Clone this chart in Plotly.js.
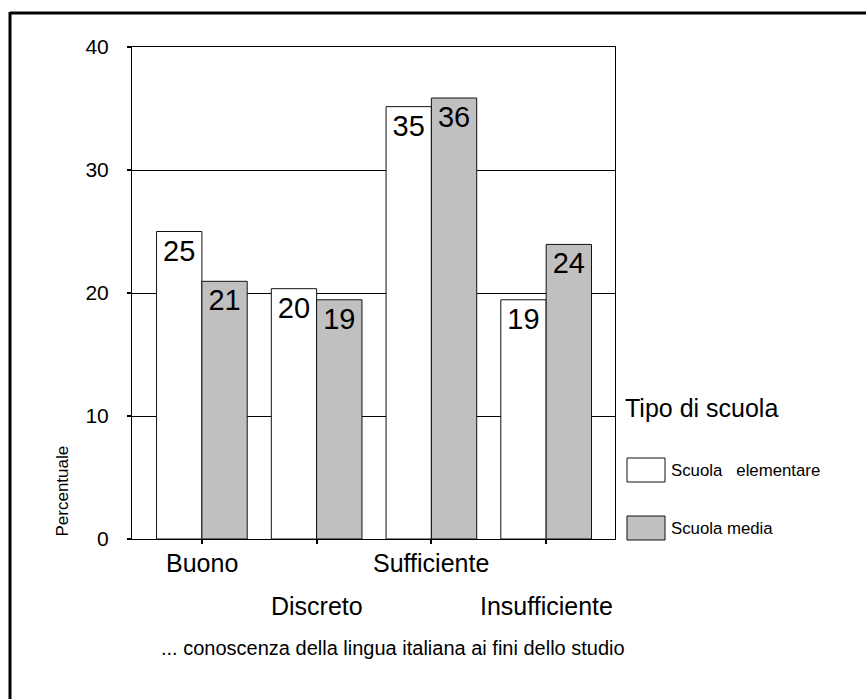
<!DOCTYPE html>
<html>
<head>
<meta charset="utf-8">
<script src="https://cdn.plot.ly/plotly-3.0.1.min.js"></script>
<style>
  html, body { margin: 0; padding: 0; background: #fff; }
  #chart { width: 866px; height: 699px; }
</style>
</head>
<body>
<div id="chart"></div>
<script>
// Giudizio sulla conoscenza della lingua italiana, per tipo di scuola (%)
const categories = ['Buono', 'Discreto', 'Sufficiente', 'Insufficiente'];
const seriesNames = ['Scuola\u00a0\u00a0 elementare', 'Scuola media'];
const elementare = [25.0, 20.35, 35.15, 19.45];
const media = [20.95, 19.45, 35.85, 23.95];
const yTicks = [0, 10, 20, 30, 40];

const W = 866, H = 699;
const M = { l: 132, r: 251, t: 47, b: 160 };
const plotW = W - M.l - M.r, plotH = H - M.t - M.b;
// pixel -> paper helpers for the legend and side labels
const px = x => (x - M.l) / plotW;
const py = y => (H - M.b - y) / plotH;

const FONT = '"Liberation Sans", Arial, sans-serif';
const fills = ['#ffffff', '#c0c0c0'];

const traces = [elementare, media].map((vals, i) => ({
  type: 'bar',
  name: seriesNames[i],
  x: categories,
  y: vals,
  marker: { color: fills[i], line: { color: '#111', width: 1 } },
  texttemplate: '%{y:.0f}',
  textposition: 'inside',
  insidetextanchor: 'end',
  constraintext: 'none',
  textangle: 0,
  insidetextfont: { family: FONT, size: 29, color: '#000' },
  hoverinfo: 'skip',
  showlegend: false
}));

const annotations = [];
// category labels, alternating on two rows
categories.forEach((c, i) => {
  annotations.push({
    x: c, xref: 'x', y: 0, yref: 'paper',
    yshift: i % 2 === 0 ? -24 : -67,
    xanchor: 'center', yanchor: 'middle',
    text: c, showarrow: false,
    font: { family: FONT, size: 25, color: '#000' }
  });
});
// y axis title
annotations.push({
  x: px(62), xref: 'paper', y: 0, yref: 'paper',
  xanchor: 'center', yanchor: 'bottom', textangle: -90,
  text: 'Percentuale', showarrow: false,
  font: { family: FONT, size: 17, color: '#000' }
});
// legend
annotations.push({
  x: px(623), xref: 'paper', y: py(408), yref: 'paper',
  xanchor: 'left', yanchor: 'middle',
  text: 'Tipo di scuola', showarrow: false,
  font: { family: FONT, size: 25, color: '#000' }
});
const legendRows = [470, 528];
const shapes = [];
seriesNames.forEach((n, i) => {
  const cy = legendRows[i];
  shapes.push({
    type: 'rect', xref: 'paper', yref: 'paper',
    x0: px(627), x1: px(665), y0: py(cy - 12), y1: py(cy + 12),
    fillcolor: fills[i], line: { color: '#111', width: 1 }
  });
  annotations.push({
    x: px(669), xref: 'paper', y: py(cy), yref: 'paper',
    xanchor: 'left', yanchor: 'middle',
    text: n, showarrow: false,
    font: { family: FONT, size: 16.8, color: '#000' }
  });
});
// chart caption
annotations.push({
  x: px(393), xref: 'paper', y: py(648), yref: 'paper',
  xanchor: 'center', yanchor: 'middle',
  text: '... conoscenza della lingua italiana ai fini dello studio', showarrow: false,
  font: { family: FONT, size: 20, color: '#000' }
});
// outer frame (top and left edges)
shapes.push({
  type: 'line', xref: 'paper', yref: 'paper',
  x0: px(10), x1: px(866), y0: py(13), y1: py(13),
  line: { color: '#000', width: 3 }
});
shapes.push({
  type: 'line', xref: 'paper', yref: 'paper',
  x0: px(10), x1: px(10), y0: py(12), y1: py(699),
  line: { color: '#000', width: 3 }
});

const layout = {
  width: W, height: H,
  margin: M,
  paper_bgcolor: '#fff', plot_bgcolor: '#fff',
  font: { family: FONT, color: '#000' },
  barmode: 'group',
  bargap: 0.21,
  bargroupgap: 0,
  xaxis: {
    type: 'category',
    range: [-0.609, 3.6],
    showticklabels: false,
    ticks: 'outside', ticklen: 4, tickcolor: '#000', tickwidth: 2,
    showline: true, linecolor: '#000', linewidth: 1, mirror: true,
    showgrid: false, zeroline: false, fixedrange: true
  },
  yaxis: {
    range: [0, 40],
    tickmode: 'array', tickvals: yTicks, ticktext: yTicks.map(String),
    ticks: 'outside', ticklen: 4, tickcolor: '#000', tickwidth: 2,
    ticklabelstandoff: 14,
    tickfont: { family: FONT, size: 21, color: '#000' },
    showline: true, linecolor: '#000', linewidth: 1, mirror: true,
    showgrid: true, gridcolor: '#000', gridwidth: 1,
    zeroline: false, fixedrange: true
  },
  annotations: annotations,
  shapes: shapes
};

Plotly.newPlot('chart', traces, layout, { displayModeBar: false, staticPlot: true });
</script>
</body>
</html>
